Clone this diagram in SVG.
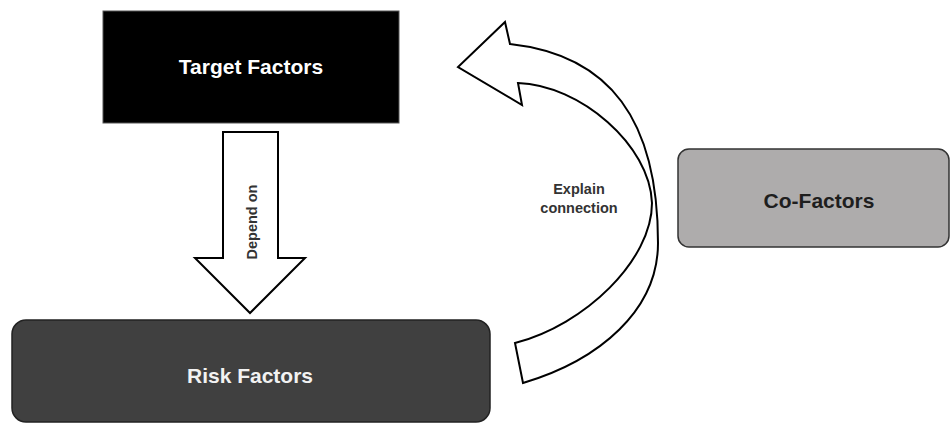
<svg xmlns="http://www.w3.org/2000/svg" width="950" height="423" viewBox="0 0 950 423">
<style>
.lbl{font-family:"Liberation Sans",Arial,sans-serif;font-weight:bold;text-anchor:middle}
.big{font-size:21px}
.small{font-size:14.5px;fill:#333333}
.arrow{fill:#ffffff;stroke:#000000;stroke-width:2;stroke-linejoin:miter}
</style>
<rect width="950" height="423" fill="#ffffff"/>
<g id="target-factors">
<rect x="103" y="11" width="296" height="112" fill="#000000" stroke="#555555" stroke-width="1"/>
<text class="lbl big" x="251" y="74" fill="#ffffff">Target Factors</text>
</g>
<g id="risk-factors">
<rect x="12" y="320" width="478" height="102" rx="14" ry="14" fill="#404040" stroke="#222222" stroke-width="1.5"/>
<text class="lbl big" x="250" y="383" fill="#f2f2f2" font-size="22">Risk Factors</text>
</g>
<g id="co-factors">
<rect x="678" y="149" width="271" height="98" rx="11" ry="11" fill="#aeacac" stroke="#333333" stroke-width="1.5"/>
<text class="lbl big" x="819" y="208" fill="#1e1e1e">Co-Factors</text>
</g>
<g id="connectors">
<path id="depend-on" class="arrow" d="M223,132 L278,132 L278,258 L305,258 L250,313 L195,258 L223,258 Z"/>
<text class="lbl small" transform="translate(257,222) rotate(-90)" x="0" y="0">Depend on</text>
<path id="explain-connection" class="arrow" d="M523,383 C600,360 658,310 658,243 C658,120 610,55 510,44 L505,22 L458,67 L522,105 L518,83 C580,85 650,145 652,203 C652,260 585,325 515,343 Z"/>
<text class="lbl small" x="579" y="194">Explain</text>
<text class="lbl small" x="579" y="213">connection</text>
</g>
</svg>
